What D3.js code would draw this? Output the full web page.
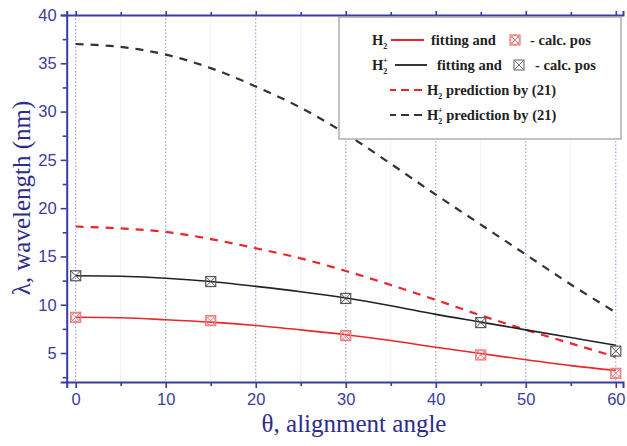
<!DOCTYPE html>
<html>
<head>
<meta charset="utf-8">
<script src="https://cdn.jsdelivr.net/npm/d3@7"></script>
<style>
 body { margin: 0; background: #fff; }
 svg { display: block; }
</style>
</head>
<body>
<div id="chart"></div>
<script>
//Angles for the curves (degrees).
var angles = [0, 5, 10, 15, 20, 25, 30, 35, 40, 45, 50, 55, 60];

//Prediction by (21).
var predH2 = [18.1, 17.9, 17.55, 16.8, 15.85, 14.8, 13.5, 12.05, 10.5, 8.9, 7.4, 6.0, 4.6];
var predH2Plus = [37.0, 36.7, 35.9, 34.5, 32.6, 30.4, 27.7, 24.6, 21.4, 18.3, 15.2, 12.1, 9.2];

//Fitting curves.
var fitH2 = [8.7, 8.65, 8.45, 8.2, 7.85, 7.4, 6.9, 6.3, 5.6, 4.95, 4.3, 3.7, 3.2];
var fitH2Plus = [13.0, 12.95, 12.75, 12.4, 11.9, 11.35, 10.7, 9.9, 9.0, 8.2, 7.4, 6.6, 5.8];

//Calculated positions.
var calcAngles = [0, 15, 30, 45, 60];
var calcH2 = [8.7, 8.35, 6.8, 4.8, 2.9];
var calcH2Plus = [13.0, 12.4, 10.65, 8.15, 5.2];

//Ticks.
var xTicks = [0, 10, 20, 30, 40, 50, 60];
var xMinorTicks = [5, 15, 25, 35, 45, 55];
var yTicks = [5, 10, 15, 20, 25, 30, 35, 40];
var yMinorTicks = [2.5, 7.5, 12.5, 17.5, 22.5, 27.5, 32.5, 37.5];

var width = 627, height = 446;
var plotLeft = 66.7, plotRight = 623, plotTop = 15, plotBottom = 382;
var axisColor = "#3b3ba6";
var labelColor = "#3d3d96";
var red = "#e8262b";

var svg = d3.select("#chart").append("svg").attr("width", width).attr("height", height);

var x = d3.scaleLinear().domain([-1, 60.8]).range([plotLeft, plotRight]);
var y = d3.scaleLinear().domain([2, 40]).range([plotBottom, plotTop]);

//Faint minor grid and dotted major grid.
svg.append("g").selectAll("line").data(xMinorTicks).enter().append("line")
 .attr("x1", function(d) { return x(d); }).attr("x2", function(d) { return x(d); })
 .attr("y1", plotTop).attr("y2", plotBottom)
 .attr("stroke", "#f1f1f6").attr("stroke-width", 1);

svg.append("g").selectAll("line").data(xTicks).enter().append("line")
 .attr("x1", function(d) { return x(d); }).attr("x2", function(d) { return x(d); })
 .attr("y1", plotTop).attr("y2", plotBottom)
 .attr("stroke", "#8c8ce0").attr("stroke-width", 1).attr("stroke-dasharray", "1.5,2");

//Curves.
var line = d3.line().x(function(d) { return x(d[0]); }).y(function(d) { return y(d[1]); }).curve(d3.curveCatmullRom);
function pairs(xs, ys) { return xs.map(function(v, i) { return [v, ys[i]]; }); }

svg.append("path").datum(pairs(angles, predH2Plus)).attr("d", line)
 .attr("fill", "none").attr("stroke", "#333").attr("stroke-width", 2.2).attr("stroke-dasharray", "8,7");
svg.append("path").datum(pairs(angles, predH2)).attr("d", line)
 .attr("fill", "none").attr("stroke", red).attr("stroke-width", 2.2).attr("stroke-dasharray", "8,7");
svg.append("path").datum(pairs(angles, fitH2Plus)).attr("d", line)
 .attr("fill", "none").attr("stroke", "#222").attr("stroke-width", 1.6);
svg.append("path").datum(pairs(angles, fitH2)).attr("d", line)
 .attr("fill", "none").attr("stroke", red).attr("stroke-width", 1.6);

//Markers: boxed cross, the red one also has a circle.
function marker(g, cx, cy, color, circle) {
 var s = 5;
 g.append("rect").attr("x", cx - s).attr("y", cy - s).attr("width", 2 * s).attr("height", 2 * s)
  .attr("fill", "none").attr("stroke", color).attr("stroke-width", 1.2);
 g.append("path").attr("d", "M" + (cx - s) + "," + (cy - s) + "L" + (cx + s) + "," + (cy + s) + "M" + (cx + s) + "," + (cy - s) + "L" + (cx - s) + "," + (cy + s))
  .attr("stroke", color).attr("stroke-width", 1);
 if (circle) g.append("circle").attr("cx", cx).attr("cy", cy).attr("r", s - 0.5)
  .attr("fill", "none").attr("stroke", color).attr("stroke-width", 1);
}
var mk = svg.append("g");
calcAngles.forEach(function(a, i) {
 marker(mk, x(a), y(calcH2Plus[i]), "#555", false);
 marker(mk, x(a), y(calcH2[i]), "#f07a7a", true);
});

//Axes.
var xAxis = d3.axisBottom(x).tickValues(xTicks).tickSize(6).tickPadding(5);
var xMinor = d3.axisBottom(x).tickValues(xMinorTicks).tickSize(4).tickFormat("");
var xTop = d3.axisTop(x).tickValues(xTicks).tickSize(4).tickFormat("");
var xTopMinor = d3.axisTop(x).tickValues(xMinorTicks).tickSize(3).tickFormat("");
var yAxis = d3.axisLeft(y).tickValues(yTicks).tickSize(6).tickPadding(4);
var yMinor = d3.axisLeft(y).tickValues(yMinorTicks).tickSize(4).tickFormat("");

function styleAxis(g) {
 g.select(".domain").attr("stroke", axisColor).attr("stroke-width", 2);
 g.selectAll(".tick line").attr("stroke", axisColor).attr("stroke-width", 1.6);
 g.selectAll(".tick text").attr("fill", labelColor).attr("font-family", "Liberation Sans, Arial, sans-serif").attr("font-size", 16.5);
}

svg.append("g").attr("transform", "translate(0," + plotTop + ")").call(xTop).call(styleAxis);
svg.append("g").attr("transform", "translate(0," + plotTop + ")").call(xTopMinor).call(styleAxis).select(".domain").remove();
svg.append("g").attr("transform", "translate(0," + plotBottom + ")").call(xAxis).call(styleAxis);
svg.append("g").attr("transform", "translate(0," + plotBottom + ")").call(xMinor).call(styleAxis).select(".domain").remove();
svg.append("g").attr("transform", "translate(" + plotLeft + ",0)").call(yAxis).call(styleAxis);
svg.append("g").attr("transform", "translate(" + plotLeft + ",0)").call(yMinor).call(styleAxis).select(".domain").remove();

//Axis titles.
svg.append("text").attr("x", 354).attr("y", 432).attr("text-anchor", "middle")
 .attr("font-family", "Liberation Serif, Times New Roman, serif").attr("font-size", 25).attr("fill", "#2c2c8c")
 .text("θ, alignment angle");
svg.append("text").attr("transform", "translate(30,198) rotate(-90)").attr("text-anchor", "middle")
 .attr("font-family", "Liberation Serif, Times New Roman, serif").attr("font-size", 25).attr("fill", "#2c2c8c")
 .text("λ, wavelength (nm)");

//Legend.
var lg = svg.append("g").attr("font-family", "Liberation Serif, Times New Roman, serif").attr("font-weight", "bold").attr("font-size", 14.5).attr("fill", "#222");
lg.append("rect").attr("x", 339).attr("y", 17).attr("width", 282).attr("height", 122)
 .attr("fill", "#fff").attr("stroke", "#9a9a9a").attr("stroke-width", 1.2);

function hLabel(g, x0, yb, plus, rest) {
 var t = g.append("text").attr("x", x0).attr("y", yb);
 t.append("tspan").text("H");
 t.append("tspan").attr("font-size", 8).attr("dy", 4).text("2");
 if (plus) t.append("tspan").attr("font-size", 8).attr("x", x0 + 11).attr("dy", -11).text("+");
 if (rest) t.append("tspan").attr("dy", plus ? 7 : -4).text(rest);
}

//Row 1.
hLabel(lg, 372, 45, false, null);
lg.append("line").attr("x1", 391).attr("x2", 424).attr("y1", 40).attr("y2", 40).attr("stroke", red).attr("stroke-width", 1.8);
lg.append("text").attr("x", 431).attr("y", 45).text("fitting and");
marker(lg, 515, 40, "#f07a7a", true);
lg.append("text").attr("x", 530).attr("y", 45).text("- calc. pos");
//Row 2.
hLabel(lg, 372, 70, true, null);
lg.append("line").attr("x1", 395).attr("x2", 427).attr("y1", 65).attr("y2", 65).attr("stroke", "#222").attr("stroke-width", 1.8);
lg.append("text").attr("x", 437).attr("y", 70).text("fitting and");
marker(lg, 519, 65, "#777", false);
lg.append("text").attr("x", 535).attr("y", 70).text("- calc. pos");
//Row 3.
lg.append("line").attr("x1", 390).attr("x2", 424).attr("y1", 90).attr("y2", 90).attr("stroke", red).attr("stroke-width", 2).attr("stroke-dasharray", "6,5,2,0");
hLabel(lg, 427, 95, false, " prediction by (21)");
//Row 4.
lg.append("line").attr("x1", 390).attr("x2", 424).attr("y1", 115).attr("y2", 115).attr("stroke", "#333").attr("stroke-width", 2).attr("stroke-dasharray", "6,5,2,0");
hLabel(lg, 427, 120, true, " prediction by (21)");
</script>
</body>
</html>
